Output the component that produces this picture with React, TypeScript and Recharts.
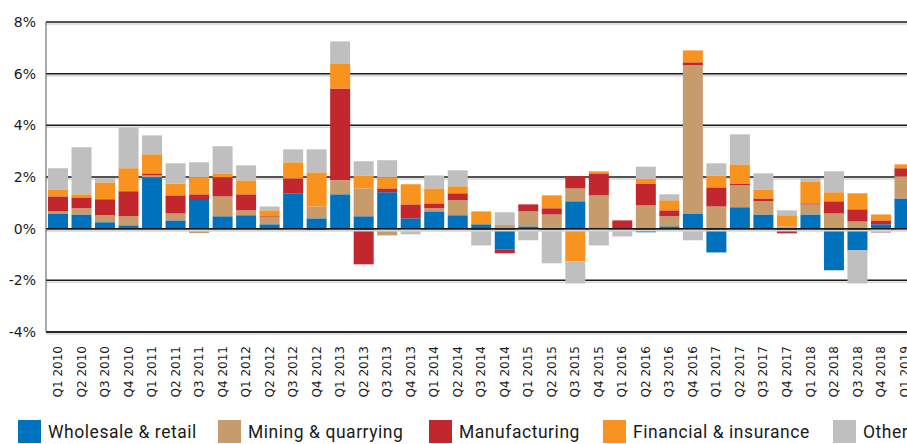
import React from 'react';
import { BarChart, Bar, XAxis, YAxis, CartesianGrid, ReferenceLine } from 'recharts';

const quarters = [
  'Q1 2010', 'Q2 2010', 'Q3 2010', 'Q4 2010',
  'Q1 2011', 'Q2 2011', 'Q3 2011', 'Q4 2011',
  'Q1 2012', 'Q2 2012', 'Q3 2012', 'Q4 2012',
  'Q1 2013', 'Q2 2013', 'Q3 2013', 'Q4 2013',
  'Q1 2014', 'Q2 2014', 'Q3 2014', 'Q4 2014',
  'Q1 2015', 'Q2 2015', 'Q3 2015', 'Q4 2015',
  'Q1 2016', 'Q2 2016', 'Q3 2016', 'Q4 2016',
  'Q1 2017', 'Q2 2017', 'Q3 2017', 'Q4 2017',
  'Q1 2018', 'Q2 2018', 'Q3 2018', 'Q4 2018',
  'Q1 2019',
];

// contributions, percentage points
const wholesale = [
  0.59, 0.55, 0.25, 0.13, 1.99, 0.32, 1.11, 0.48, 0.52, 0.17, 1.37, 0.40,
  1.33, 0.48, 1.41, 0.40, 0.67, 0.52, 0.17, -0.80, 0.09, -0.10, 1.06, 0.05,
  0.00, -0.14, 0.09, 0.59, -0.92, 0.83, 0.55, 0.03, 0.55, -1.61, -0.84, 0.17,
  1.17,
];
const mining = [
  0.08, 0.24, 0.27, 0.35, 0.07, 0.27, -0.17, 0.77, 0.19, 0.27, -0.06, 0.46,
  0.54, 1.08, -0.26, 0.00, 0.12, 0.58, 0.00, 0.10, 0.58, 0.55, 0.50, 1.24,
  -0.04, 0.90, 0.39, 5.73, 0.86, 0.85, 0.51, 0.06, 0.39, 0.59, 0.28, 0.00,
  0.86,
];
const manufacturing = [
  0.58, 0.42, 0.62, 0.97, 0.08, 0.70, 0.22, 0.74, 0.62, 0.04, 0.58, -0.06,
  3.56, -1.38, 0.15, 0.54, 0.19, 0.27, -0.06, -0.15, 0.27, 0.24, 0.47, 0.85,
  0.32, 0.85, 0.23, 0.12, 0.74, 0.07, 0.11, -0.18, 0.04, 0.47, 0.47, 0.15,
  0.31,
];
const financial = [
  0.27, 0.12, 0.65, 0.89, 0.74, 0.46, 0.66, 0.15, 0.54, 0.23, 0.62, 1.32,
  0.97, 0.50, 0.43, 0.78, 0.58, 0.27, 0.50, 0.04, 0.00, 0.50, -1.26, 0.08,
  -0.04, 0.19, 0.39, 0.46, 0.46, 0.74, 0.35, 0.43, 0.85, 0.35, 0.62, 0.23,
  0.15,
];
const other = [
  0.82, 1.82, 0.16, 1.58, 0.73, 0.78, 0.58, 1.05, 0.58, 0.15, 0.50, 0.89,
  0.85, 0.55, 0.66, -0.22, 0.50, 0.62, -0.59, 0.50, -0.45, -1.24, -0.86, -0.65,
  -0.22, 0.46, 0.23, -0.45, 0.47, 1.16, 0.62, 0.19, 0.12, 0.81, -1.28, -0.17,
  -0.05,
];

const yTicks = [-4, -2, 0, 2, 4, 6, 8];

const series = [
  { key: 'wholesale', name: 'Wholesale & retail', color: '#0071BC', values: wholesale },
  { key: 'mining', name: 'Mining & quarrying', color: '#C69C6D', values: mining },
  { key: 'manufacturing', name: 'Manufacturing', color: '#C1272D', values: manufacturing },
  { key: 'financial', name: 'Financial & insurance', color: '#F7931E', values: financial },
  { key: 'other', name: 'Other', color: '#BFBFBF', values: other },
];

const data = quarters.map((q, i) => {
  const row: any = { q };
  series.forEach((s) => { row[s.key] = s.values[i]; });
  return row;
});

// legend item left edges, matching the original layout
const legendLeft = [18, 218, 429, 603, 833];

// black rule with a light grey shadow line under it
const ShadowLine = (p: any) => (
  <g key={p.key}>
    <line x1={p.x1} x2={p.x2} y1={p.y1 + 2} y2={p.y2 + 2} stroke="#d6d6d6" strokeWidth={1.5} />
    <line x1={p.x1} x2={p.x2} y1={p.y1} y2={p.y2} stroke="#1a1a1a" strokeWidth={1.5} />
  </g>
);

const QuarterTick = ({ x, y, payload }: any) => (
  <text
    transform={`translate(${x},${y + 6}) rotate(-90)`}
    textAnchor="end"
    dy="0.36em"
    fontSize={12}
    fontFamily="DejaVu Sans"
    fill="#1a1a1a"
  >
    {payload.value}
  </text>
);

const App = () => {
  return (
    <div style={{ position: 'absolute', left: 0, top: 0, width: 907, height: 444, overflow: 'hidden', background: '#fff' }}>
      <BarChart
        width={916}
        height={444}
        data={data}
        stackOffset="sign"
        margin={{ top: 22, right: 0, left: 0, bottom: 0 }}
      >
        <CartesianGrid vertical={false} horizontal={ShadowLine} />
        <XAxis
          dataKey="q"
          interval={0}
          height={112}
          tick={<QuarterTick />}
          tickLine={false}
          axisLine={{ stroke: '#1a1a1a', strokeWidth: 1.5 }}
        />
        <YAxis
          width={46}
          domain={[-4, 8]}
          ticks={yTicks}
          tickFormatter={(v) => `${v}%`}
          tickLine={false}
          tickSize={0}
          tickMargin={10}
          axisLine={{ stroke: '#555', strokeWidth: 1 }}
          tick={{ fontSize: 14, fontFamily: 'DejaVu Sans', fill: '#1a1a1a' }}
        />
        {series.map((s) => (
          <Bar
            key={s.key}
            dataKey={s.key}
            name={s.name}
            stackId="a"
            fill={s.color}
            barSize={20}
            isAnimationActive={false}
          />
        ))}
        <ReferenceLine y={0} shape={ShadowLine} />
      </BarChart>

      {/* Legend */}
      {series.map((s, i) => (
        <div
          key={s.key}
          style={{ position: 'absolute', left: legendLeft[i], top: 420, display: 'flex', alignItems: 'center', whiteSpace: 'nowrap' }}
        >
          <div style={{ width: 23, height: 23, background: s.color, flex: 'none' }} />
          <span
            style={{
              display: 'inline-block',
              marginLeft: 7,
              fontFamily: 'Roboto, "Liberation Sans", sans-serif',
              fontSize: 19,
              letterSpacing: 0.6,
              color: '#1a1a1a',
              lineHeight: '23px',
              transform: 'scaleX(0.92)',
              transformOrigin: 'left center',
            }}
          >
            {s.name}
          </span>
        </div>
      ))}
    </div>
  );
};

export default App;
